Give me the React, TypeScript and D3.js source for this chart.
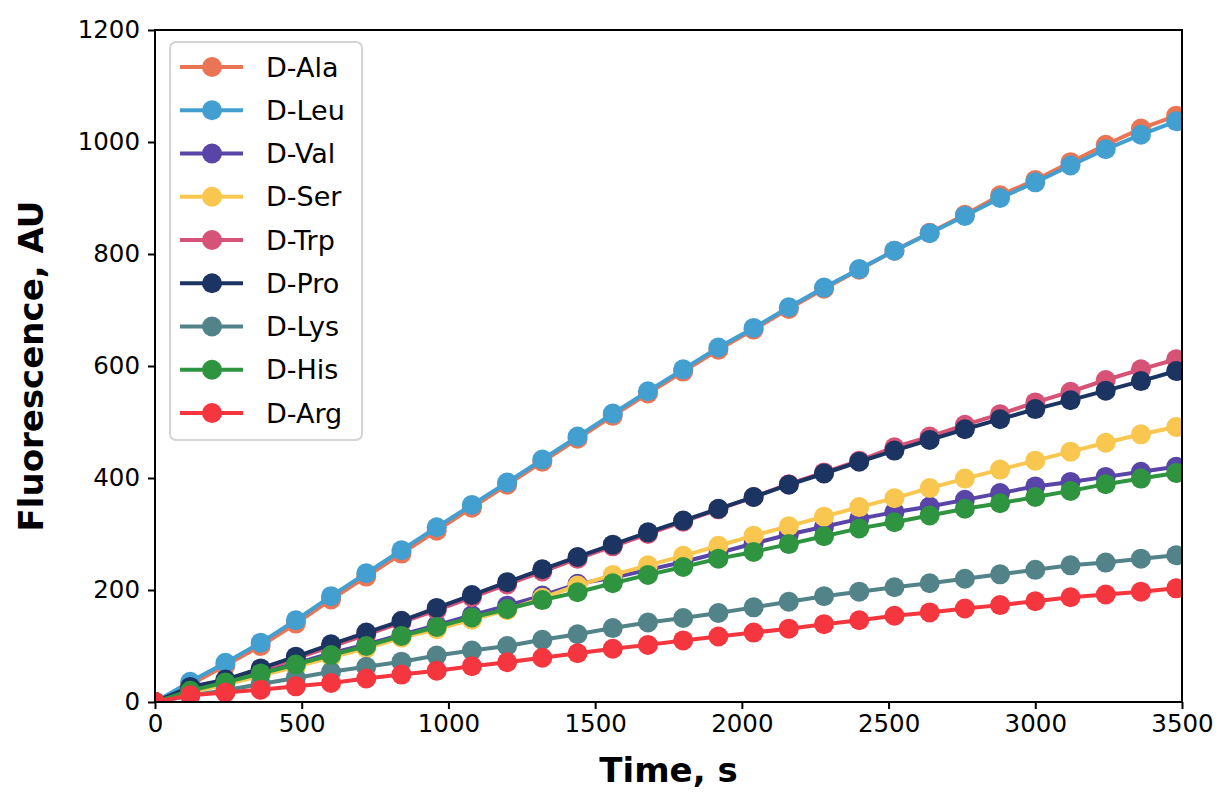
import React, {useEffect, useRef} from 'react';
import * as d3 from 'd3';

// time points, every 120 s
const times = d3.range(0, 3481, 120);

const names = ["D-Ala", "D-Leu", "D-Val", "D-Ser", "D-Trp", "D-Pro", "D-Lys", "D-His", "D-Arg"];
const colors = ["#ea7555", "#439fd0", "#5944a8", "#f9c74f", "#d65377", "#1c3461", "#528389", "#2f9440", "#f5363f"];

const ala = [0, 31, 65, 100, 140, 183, 224, 265, 306, 347, 388, 429, 470, 511, 551, 590, 629, 665, 702, 738, 772, 806, 838, 870, 905, 932, 964, 995, 1024, 1047];
const leu = [0, 36, 70, 106, 146, 189, 230, 271, 312, 352, 392, 433, 474, 515, 555, 594, 633, 668, 705, 740, 773, 806, 837, 868, 900, 928, 958, 987, 1013, 1037];
const val = [0, 21, 36, 53, 69, 87, 103, 120, 137, 155, 172, 190, 211, 222, 236, 250, 266, 283, 299, 313, 327, 339, 349, 361, 373, 385, 393, 402, 411, 420];
const ser = [0, 17, 31, 47, 63, 80, 96, 115, 130, 147, 164, 186, 208, 227, 244, 261, 279, 297, 314, 331, 348, 364, 382, 399, 415, 431, 447, 463, 478, 491];
const trp = [0, 25, 38, 57, 78, 99, 120, 142, 164, 187, 210, 233, 256, 278, 300, 322, 344, 366, 389, 410, 431, 455, 474, 495, 514, 535, 554, 575, 594, 612];
const pro = [0, 27, 40, 60, 81, 103, 124, 145, 168, 191, 214, 237, 259, 281, 303, 324, 345, 366, 388, 408, 429, 449, 468, 487, 505, 523, 539, 556, 573, 591];
const lys = [0, 11, 21, 32, 43, 54, 63, 72, 83, 92, 100, 111, 121, 132, 142, 150, 159, 169, 179, 189, 197, 205, 212, 220, 228, 236, 244, 249, 256, 262];
const his = [0, 20, 35, 51, 67, 84, 100, 118, 134, 151, 166, 182, 196, 212, 227, 241, 256, 268, 282, 296, 310, 321, 333, 345, 355, 366, 377, 389, 399, 409];
const arg = [0, 12, 17, 22, 28, 34, 42, 49, 56, 64, 71, 79, 87, 95, 102, 110, 117, 124, 131, 139, 146, 154, 160, 167, 173, 180, 187, 192, 197, 203];

const xTicks = [0, 500, 1000, 1500, 2000, 2500, 3000, 3500];
const yTicks = [0, 200, 400, 600, 800, 1000, 1200];

function App() {
  const ref = useRef<SVGSVGElement>(null);

  useEffect(() => {
    const series = [ala, leu, val, ser, trp, pro, lys, his, arg].map((vals, i) => ({
      name: names[i],
      color: colors[i],
      points: vals.map((v, j) => ({t: times[j], v}))
    }));

    const width = 1223, height = 795;
    const margin = {top: 30, left: 155, right: 41, bottom: 93};
    const gw = width - margin.left - margin.right;
    const gh = height - margin.top - margin.bottom;
    const font = "'DejaVu Sans', sans-serif";

    const svg = d3.select(ref.current).attr("width", width).attr("height", height);
    svg.selectAll("*").remove();

    const xScale = d3.scaleLinear().domain([0, 3500]).range([0, gw]);
    const yScale = d3.scaleLinear().domain([0, 1200]).range([gh, 0]);

    const graph = svg.append("g").attr("transform", `translate(${margin.left}, ${margin.top})`);

    // axes
    const xAxis = graph.append("g").attr("transform", `translate(0, ${gh})`)
      .call(d3.axisBottom(xScale).tickValues(xTicks).tickFormat(d3.format("d")).tickSize(7).tickPadding(6));
    const yAxis = graph.append("g")
      .call(d3.axisLeft(yScale).tickValues(yTicks).tickFormat(d3.format("d")).tickSize(7).tickPadding(8));
    [xAxis, yAxis].forEach(a => {
      a.select(".domain").remove();
      a.selectAll("line").attr("stroke", "#000").attr("stroke-width", 2);
      a.selectAll("text").attr("font-family", font).attr("font-size", 24.5).attr("fill", "#000");
    });

    // lines and markers, clipped to the axes box
    const line = d3.line<{t: number, v: number}>().x(d => xScale(d.t)).y(d => yScale(d.v));
    graph.append("clipPath").attr("id", "plotclip").append("rect")
      .attr("x", 0).attr("y", 0).attr("width", gw).attr("height", gh);
    const plot = graph.append("g").attr("clip-path", "url(#plotclip)");
    series.forEach(s => {
      const g = plot.append("g");
      g.append("path").datum(s.points).attr("d", line).attr("fill", "none")
        .attr("stroke", s.color).attr("stroke-width", 4);
      g.selectAll("circle").data(s.points).join("circle")
        .attr("cx", d => xScale(d.t)).attr("cy", d => yScale(d.v)).attr("r", 10).attr("fill", s.color);
    });

    // frame
    graph.append("rect").attr("width", gw).attr("height", gh).attr("fill", "none")
      .attr("stroke", "#000").attr("stroke-width", 2);

    // legend
    const legend = graph.append("g").attr("transform", "translate(15, 12)");
    legend.append("rect").attr("width", 192).attr("height", 398).attr("rx", 6)
      .attr("fill", "#fff").attr("fill-opacity", 0.85).attr("stroke", "#d4d4d4").attr("stroke-width", 2);
    series.forEach((s, i) => {
      const y = 25 + i * 43.25;
      const row = legend.append("g").attr("transform", `translate(0, ${y})`);
      row.append("line").attr("x1", 10).attr("x2", 73).attr("stroke", s.color).attr("stroke-width", 4);
      row.append("circle").attr("cx", 42).attr("r", 10).attr("fill", s.color);
      row.append("text").attr("x", 96).attr("dy", "0.36em").attr("font-family", font)
        .attr("font-size", 27).text(s.name);
    });

    // labels
    svg.append("text").attr("x", margin.left + gw / 2).attr("y", height - 13).attr("text-anchor", "middle")
      .attr("font-family", font).attr("font-weight", "bold").attr("font-size", 34).text("Time, s");
    svg.append("text").attr("text-anchor", "middle")
      .attr("transform", `translate(43, ${margin.top + gh / 2}) rotate(-90)`)
      .attr("font-family", font).attr("font-weight", "bold").attr("font-size", 34).text("Fluorescence, AU");
  }, []);

  return (
    <div style={{margin: "-8px"}}>
      <svg ref={ref}></svg>
    </div>
  );
}

export default App;
